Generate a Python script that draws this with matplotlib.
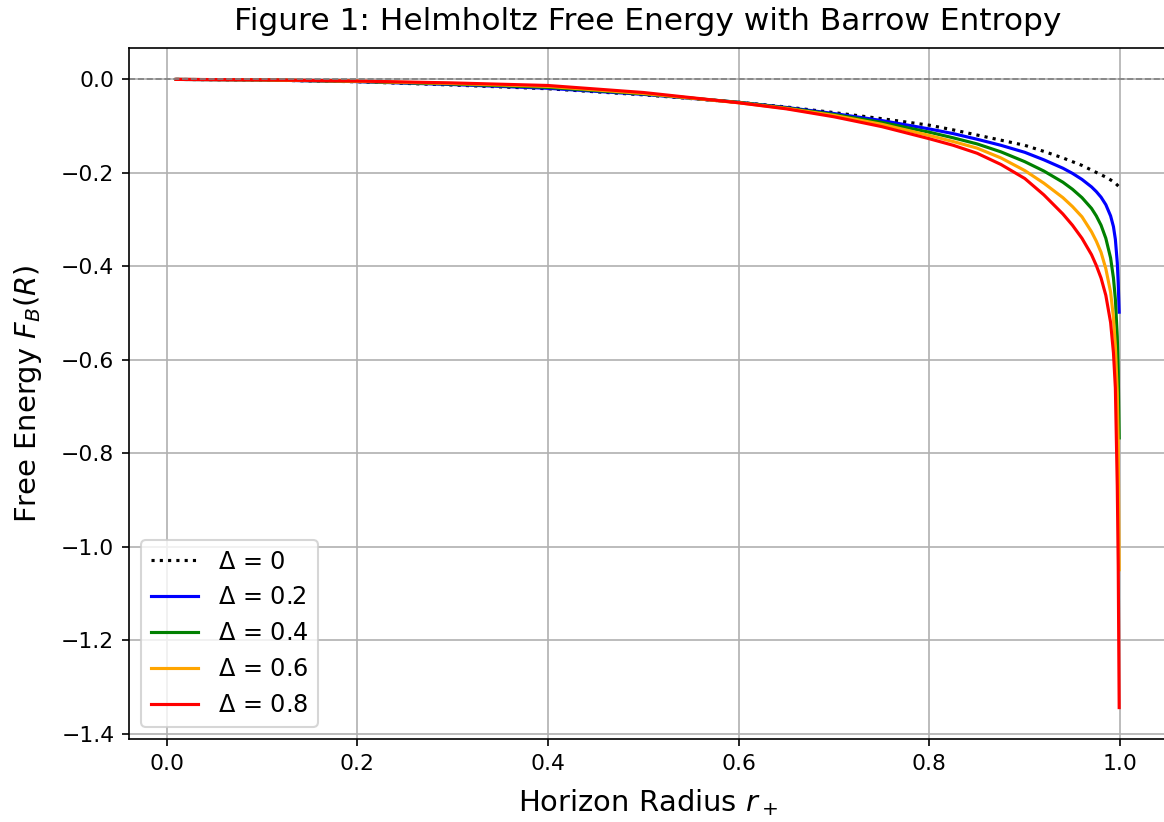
import matplotlib
matplotlib.use("Agg")
import matplotlib.pyplot as plt

# horizon radius samples
r_plus = [0.01, 0.1, 0.2, 0.3, 0.4, 0.5, 0.6, 0.65, 0.7, 0.75, 0.8, 0.825, 0.85, 0.875,
          0.9, 0.92, 0.94, 0.95, 0.96, 0.97, 0.975, 0.98, 0.985, 0.99, 0.993, 0.995,
          0.997, 0.998, 0.999]

# free energy for each Barrow exponent
F_d0 = [0.0, -0.0013, -0.005, -0.012, -0.020, -0.033, -0.049, -0.059, -0.071, -0.084,
        -0.098, -0.108, -0.119, -0.130, -0.141, -0.154, -0.168, -0.176, -0.184, -0.194,
        -0.199, -0.204, -0.209, -0.215, -0.219, -0.222, -0.226, -0.228, -0.230]
F_d02 = [0.0, -0.0012, -0.0047, -0.011, -0.019, -0.032, -0.049, -0.060, -0.073, -0.088,
         -0.106, -0.116, -0.128, -0.141, -0.156, -0.172, -0.190, -0.201, -0.214, -0.230,
         -0.240, -0.252, -0.268, -0.292, -0.315, -0.342, -0.392, -0.435, -0.498]
F_d04 = [0.0, -0.0011, -0.0043, -0.010, -0.017, -0.031, -0.049, -0.061, -0.075, -0.092,
         -0.113, -0.125, -0.138, -0.155, -0.176, -0.196, -0.220, -0.235, -0.253, -0.276,
         -0.292, -0.312, -0.340, -0.382, -0.425, -0.470, -0.550, -0.625, -0.767]
F_d06 = [0.0, -0.0010, -0.0039, -0.0088, -0.015, -0.030, -0.050, -0.062, -0.077, -0.096,
         -0.120, -0.133, -0.147, -0.168, -0.195, -0.222, -0.253, -0.272, -0.294, -0.326,
         -0.346, -0.370, -0.405, -0.455, -0.510, -0.570, -0.670, -0.780, -1.049]
F_d08 = [0.0, -0.0008, -0.0035, -0.0075, -0.013, -0.028, -0.050, -0.063, -0.080, -0.101,
         -0.127, -0.141, -0.158, -0.182, -0.212, -0.247, -0.288, -0.312, -0.340, -0.375,
         -0.398, -0.425, -0.462, -0.520, -0.585, -0.660, -0.870, -1.040, -1.344]

series = [
    ("$\\Delta$ = 0", F_d0, "black", ":"),
    ("$\\Delta$ = 0.2", F_d02, "blue", "-"),
    ("$\\Delta$ = 0.4", F_d04, "green", "-"),
    ("$\\Delta$ = 0.6", F_d06, "orange", "-"),
    ("$\\Delta$ = 0.8", F_d08, "red", "-"),
]

fig = plt.figure(figsize=(1164 / 150, 822 / 150), dpi=150)
ax = fig.add_axes([129 / 1164, 1 - 739 / 822, 1.002 - 129 / 1164, (739 - 48) / 822])

for label, F, color, ls in series:
    ax.plot(r_plus, F, color=color, linestyle=ls, linewidth=1.5, label=label)

ax.axhline(0, color="gray", linestyle="--", linewidth=0.8)

ax.set_title("Figure 1: Helmholtz Free Energy with Barrow Entropy", fontsize=15, pad=8.5)
ax.set_xlabel("Horizon Radius $r_+$", fontsize=13.9, labelpad=6.5)
ax.set_ylabel("Free Energy $F_B(R)$", fontsize=13.9, labelpad=8)
ax.tick_params(labelsize=10.5)
ax.grid(True)
ax.legend(loc="lower left", fontsize=11.5)

fig.savefig("out.png", dpi=150)
